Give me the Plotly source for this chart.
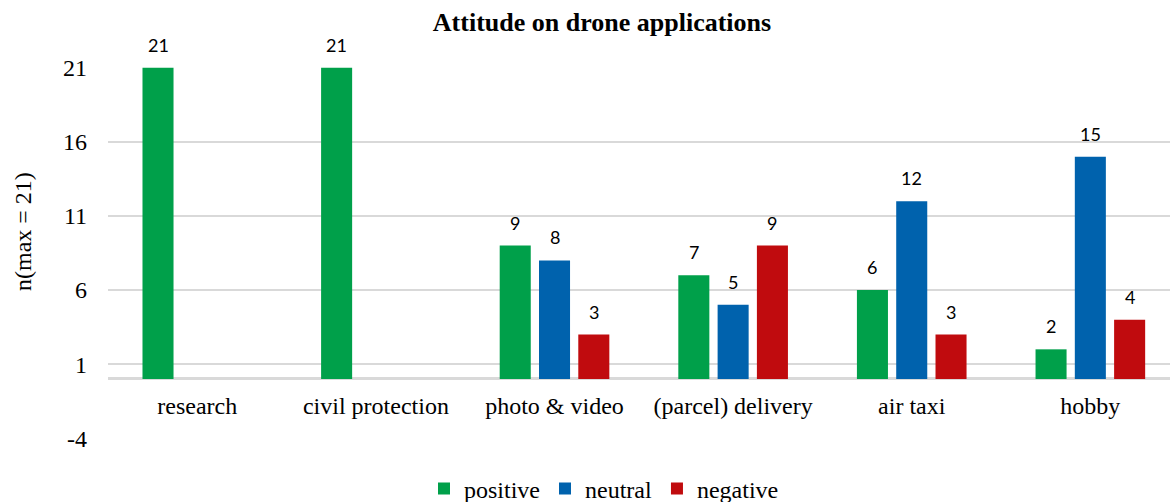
import plotly.graph_objects as go

# Survey answers per drone application (n, max = 21)
categories = ["research", "civil protection", "photo & video",
              "(parcel) delivery", "air taxi", "hobby"]
positive = [21, 21, 9, 7, 6, 2]
neutral = [0, 0, 8, 5, 12, 15]
negative = [0, 0, 3, 9, 3, 4]

series_names = ["positive", "neutral", "negative"]
series_values = [positive, neutral, negative]
series_colors = ["#00A04A", "#0062AD", "#C00B0E"]

y_ticks = [-4, 1, 6, 11, 16, 21]
y_tick_text = ["-4", "1", "6", "11", "16", "21"]

SERIF = "Liberation Serif"
SANS = "Lato"

W, H = 1170, 502
M_L, M_R, M_T, M_B = 108, 0, 67, 63
BARGAP = 0.34
BARGROUPGAP = 0.21
X_RANGE = [-0.5, 5.446]
Y_RANGE = [-4.05, 21.05]

fig = go.Figure()
for name, vals, col in zip(series_names, series_values, series_colors):
    fig.add_trace(go.Bar(
        name=name, x=categories, y=vals,
        marker=dict(color=col, line=dict(width=0)),
    ))

# value labels above each non-zero bar, shifted to its slot in the group
plot_w = W - M_L - M_R
plot_h = H - M_T - M_B
px_per_cat = plot_w / (X_RANGE[1] - X_RANGE[0])
slot = (1 - BARGAP) / len(series_names)
for i, vals in enumerate(series_values):
    shift = (i - (len(series_names) - 1) / 2) * slot * px_per_cat
    for cat, v in zip(categories, vals):
        if v == 0:
            continue
        fig.add_annotation(
            x=cat, y=v, xshift=shift, yshift=23,
            text=str(v), showarrow=False, yanchor="middle",
            font=dict(family=SANS, size=18, color="#000000"),
        )

# vertical axis caption, placed a little above the plot's centre
fig.add_annotation(
    text="n(max = 21)", textangle=-90, showarrow=False,
    xref="paper", yref="paper",
    x=(23 - M_L) / plot_w, y=(H - M_B - 232) / plot_h,
    xanchor="center", yanchor="middle",
    font=dict(family=SERIF, size=24, color="#000000"),
)

# category axis sits on the zero line, not at the bottom of the plot
zero_pos = (0 - Y_RANGE[0]) / (Y_RANGE[1] - Y_RANGE[0])

fig.update_layout(
    width=W, height=H,
    margin=dict(l=M_L, r=M_R, t=M_T, b=M_B, autoexpand=False),
    font=dict(family=SERIF, size=24, color="#000000"),
    paper_bgcolor="white", plot_bgcolor="white",
    barmode="group", bargap=BARGAP, bargroupgap=BARGROUPGAP,
    title=dict(
        text="<b>Attitude on drone applications</b>",
        x=602 / W, xanchor="center", y=1 - 22 / H, yanchor="middle",
        font=dict(family=SERIF, size=26, color="#000000"),
    ),
    legend=dict(
        orientation="h", xref="container", yref="container",
        x=604 / W, xanchor="center", y=(H - 489) / H, yanchor="middle",
        font=dict(family=SERIF, size=24, color="#000000"),
        itemwidth=30, tracegroupgap=0,
    ),
    xaxis=dict(
        range=X_RANGE, showgrid=False, showline=False, ticks="",
        anchor="free", position=zero_pos, automargin=False,
        ticklabelstandoff=10,
        tickfont=dict(family=SERIF, size=24, color="#000000"),
    ),
    yaxis=dict(
        range=Y_RANGE, tickvals=y_ticks, ticktext=y_tick_text,
        showgrid=True, gridcolor="#D9D9D9", gridwidth=1.5,
        zeroline=True, zerolinecolor="#D9D9D9", zerolinewidth=3,
        showline=False, ticks="", ticklabelstandoff=20, automargin=False,
        tickfont=dict(family=SERIF, size=24, color="#000000"),
    ),
)

fig.write_html("out.html")
